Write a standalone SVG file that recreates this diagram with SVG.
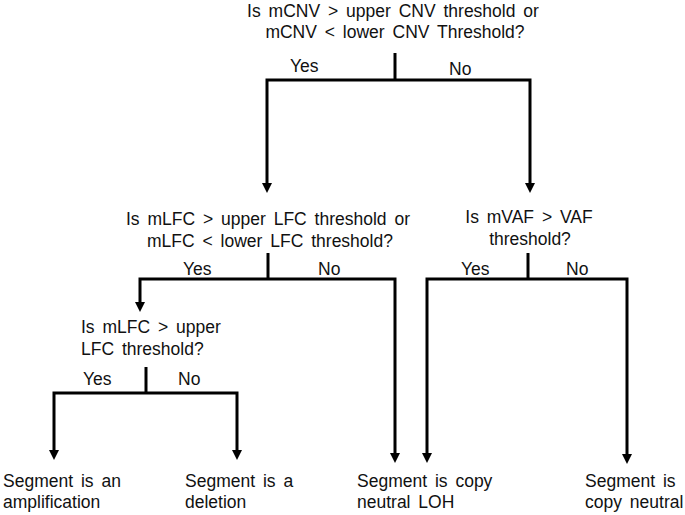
<svg xmlns="http://www.w3.org/2000/svg" width="685" height="515" viewBox="0 0 685 515">
<defs>
<style>
text{font-family:"Liberation Sans",Arial,sans-serif;font-size:17.5px;fill:#111;word-spacing:3px}
.c{text-anchor:middle}
.ln{fill:none;stroke:#000;stroke-width:3;stroke-linejoin:miter}
.ar{marker-start:url(#arr);marker-end:url(#arr)}
</style>
<marker id="arr" markerUnits="userSpaceOnUse" markerWidth="10" markerHeight="10" viewBox="0 0 10 10" refX="1" refY="5" orient="auto-start-reverse">
<path d="M0,0 L10,5 L0,10 z" fill="#000"/>
</marker>
</defs>
<rect width="685" height="515" fill="#fff"/>
<g id="connectors">
<path class="ln" d="M395,53 V80"/>
<path class="ln ar" d="M267,184 V80 H530 V184"/>
<path class="ln" d="M268,253 V279"/>
<path class="ln ar" d="M140,303 V279 H395 V454"/>
<path class="ln" d="M528,253 V279"/>
<path class="ln ar" d="M427,454 V279 H627 V455"/>
<path class="ln" d="M146,367 V393"/>
<path class="ln ar" d="M54,451 V393 H237 V451"/>
</g>
<g id="q1">
<text class="c" x="393" y="17">Is mCNV &gt; upper CNV threshold or</text>
<text class="c" x="395" y="38">mCNV &lt; lower CNV Threshold?</text>
</g>
<g id="q1-labels">
<text x="290" y="72">Yes</text>
<text x="449" y="75">No</text>
</g>
<g id="q2">
<text class="c" x="268" y="225">Is mLFC &gt; upper LFC threshold or</text>
<text class="c" x="270" y="247">mLFC &lt; lower LFC threshold?</text>
</g>
<g id="q2-labels">
<text x="183" y="275">Yes</text>
<text x="318" y="275">No</text>
</g>
<g id="q3">
<text class="c" x="529" y="223">Is mVAF &gt; VAF</text>
<text class="c" x="530" y="245">threshold?</text>
</g>
<g id="q3-labels">
<text x="461" y="275">Yes</text>
<text x="566" y="275">No</text>
</g>
<g id="q4">
<text x="81" y="333">Is mLFC &gt; upper</text>
<text x="81" y="355">LFC threshold?</text>
</g>
<g id="q4-labels">
<text x="83" y="385">Yes</text>
<text x="178" y="385">No</text>
</g>
<g id="r-amp">
<text x="3" y="487">Segment is an</text>
<text x="3" y="508">amplification</text>
</g>
<g id="r-del">
<text x="185" y="487">Segment is a</text>
<text x="185" y="508">deletion</text>
</g>
<g id="r-loh">
<text x="357" y="487">Segment is copy</text>
<text x="357" y="508">neutral LOH</text>
</g>
<g id="r-neutral">
<text x="585" y="487">Segment is</text>
<text x="585" y="508">copy neutral</text>
</g>
</svg>
